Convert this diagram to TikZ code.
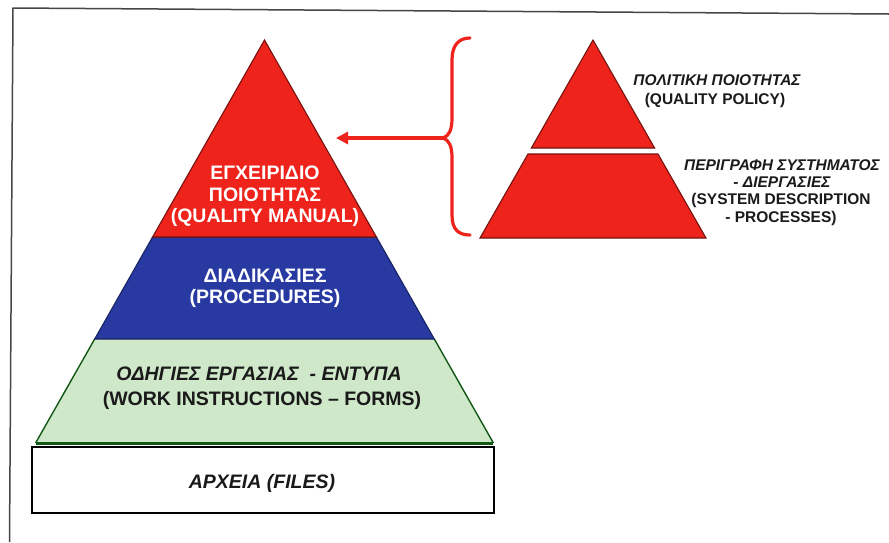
\documentclass[tikz,border=0pt]{standalone}
\usepackage{fontspec}
\setmainfont{Liberation Sans}
\usetikzlibrary{arrows.meta}
\definecolor{pyred}{RGB}{238,36,28}
\definecolor{pyblue}{RGB}{40,58,162}
\definecolor{pygreen}{RGB}{208,232,202}
\definecolor{pygreenline}{RGB}{18,88,20}
\definecolor{inkdark}{RGB}{26,26,26}
\definecolor{framegray}{RGB}{70,70,70}
\begin{document}
\begin{tikzpicture}[x=1pt,y=-1pt,
  bigtxt/.style={font=\bfseries\fontsize{19.5}{22}\selectfont, inner sep=0pt, anchor=center},
  bigit/.style={font=\bfseries\itshape\fontsize{19.5}{22}\selectfont, inner sep=0pt, anchor=center},
  smalltxt/.style={font=\bfseries\fontsize{15.5}{18}\selectfont, inner sep=0pt, anchor=center, text=inkdark},
  smallit/.style={font=\bfseries\itshape\fontsize{15.5}{18}\selectfont, inner sep=0pt, anchor=center, text=inkdark},
  layer/.style={line width=1.1pt, line join=miter},
  bracestroke/.style={draw=pyred, line width=3.2pt, line cap=round, line join=round}]
\useasboundingbox (0,0) rectangle (889,542);
\fill[white] (0,0) rectangle (889,542);

% page frame (left and top edges)
\draw[framegray, line width=1.5pt] (9.5,542) -- (13,8) -- (889,14);

% main pyramid: apex (264.5,40), half-width grows 0.568 per unit of depth
\fill[pygreen] (35.6,443) -- (94.7,339) -- (434.3,339) -- (493.4,443) -- cycle;
\draw[pygreenline, line width=1.4pt] (35.6,443) -- (94.7,339) (434.3,339) -- (493.4,443);
\draw[pyblue!60!black, layer, fill=pyblue] (94.7,339) -- (152.6,237) -- (376.4,237) -- (434.3,339) -- cycle;
\draw[pyred!50!black, layer, fill=pyred] (152.6,237) -- (264.5,40) -- (376.4,237) -- cycle;

% files block under the pyramid
\draw[black, line width=2.8pt, fill=white] (32,447) rectangle (494,513);
\draw[pygreenline, line width=3.2pt] (35.6,443.5) -- (493.4,443.5);

% small split pyramid: apex (593,40)
\draw[pyred!50!black, layer, fill=pyred] (531.4,148) -- (593,40) -- (654.6,148) -- cycle;
\draw[pyred!50!black, layer, fill=pyred] (480,238) -- (528,154) -- (658,154) -- (706,238) -- cycle;

% curly brace and arrow back to the manual layer
\coordinate (bracetip) at (443,138);
\coordinate (manualedge) at (336,138);
\draw[bracestroke] (470,38) .. controls (458,38) and (452,46) .. (452,60)
  -- (452,118) .. controls (452,130) and (449,136) .. (bracetip)
  .. controls (449,140) and (452,146) .. (452,158)
  -- (452,215) .. controls (452,229) and (458,235) .. (470,235);
\draw[pyred, line width=3.2pt, -{Triangle[length=12pt,width=12pt]}] (bracetip) -- (manualedge);

% layer labels
\node[bigtxt, text=white] (man1) at (265,173) {ΕΓΧΕΙΡΙΔΙΟ};
\node[bigtxt, text=white] (man2) at (265,195) {ΠΟΙΟΤΗΤΑΣ};
\node[bigtxt, text=white] (man3) at (265,217) {(QUALITY MANUAL)};
\node[bigtxt, text=white] (proc1) at (265,276) {ΔΙΑΔΙΚΑΣΙΕΣ};
\node[bigtxt, text=white] (proc2) at (265,298) {(PROCEDURES)};
\node[bigit, text=inkdark] (work1) at (259,374) {ΟΔΗΓΙΕΣ ΕΡΓΑΣΙΑΣ \ - ΕΝΤΥΠΑ};
\node[bigtxt, text=inkdark] (work2) at (262,400) {(WORK INSTRUCTIONS – FORMS)};
\node[bigit, text=inkdark] (files) at (262,483) {ΑΡΧΕΙΑ (FILES)};

% labels of the small pyramid
\node[smallit] (pol1) at (717,80) {ΠΟΛΙΤΙΚΗ ΠΟΙΟΤΗΤΑΣ};
\node[smalltxt] (pol2) at (715,100) {(QUALITY POLICY)};
\node[smallit] (sys1) at (782,165) {ΠΕΡΙΓΡΑΦΗ ΣΥΣΤΗΜΑΤΟΣ};
\node[smallit] (sys2) at (782,182) {- ΔΙΕΡΓΑΣΙΕΣ};
\node[smalltxt] (sys3) at (781,200) {(SYSTEM DESCRIPTION};
\node[smalltxt] (sys4) at (781,218) {- PROCESSES)};
\end{tikzpicture}
\end{document}
